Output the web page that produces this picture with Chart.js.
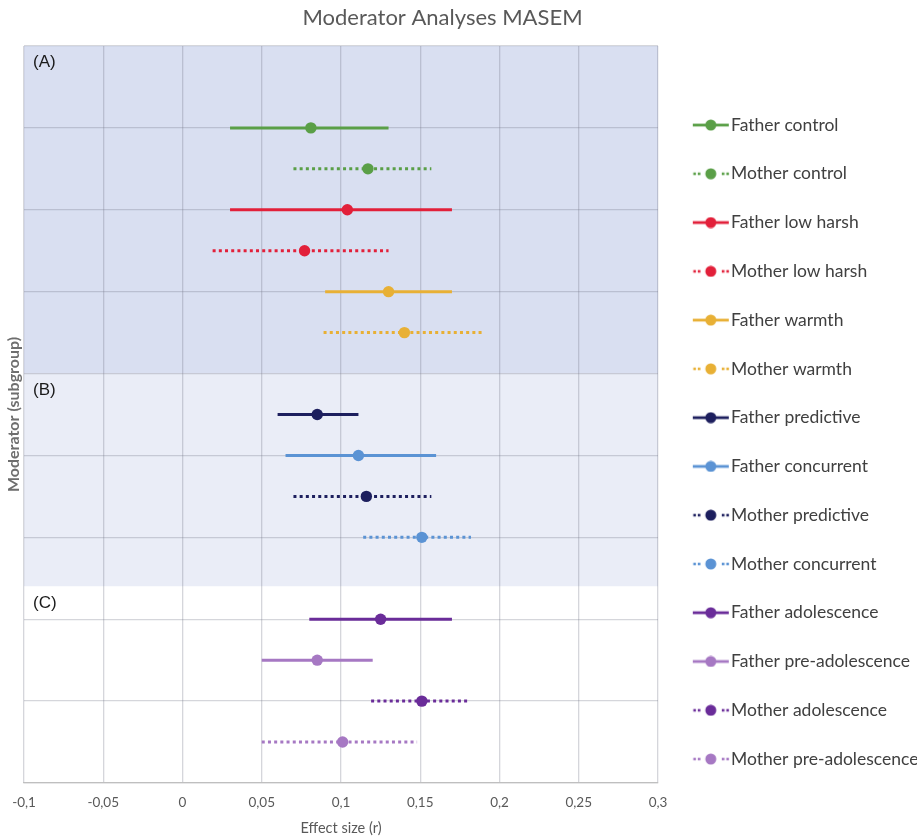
<!DOCTYPE html>
<html>
<head>
<meta charset="utf-8">
<script src="https://cdn.jsdelivr.net/npm/chart.js@4/dist/chart.umd.min.js"></script>
<style>
html,body{margin:0;padding:0;background:#fff;}
#wrap{width:917px;height:837px;}
</style>
</head>
<body>
<div id="wrap"><canvas id="c" width="917" height="837"></canvas></div>
<script>
// ---- data ----
const groups = ['Father control','Mother control','Father low harsh','Mother low harsh','Father warmth','Mother warmth',
  'Father predictive','Father concurrent','Mother predictive','Mother concurrent',
  'Father adolescence','Father pre-adolescence','Mother adolescence','Mother pre-adolescence'];
const rowPos    = [2,3,4,5,6,7, 9,10,11,12, 14,15,16,17];
const estimates = [0.081,0.117,0.104,0.077,0.130,0.140, 0.085,0.111,0.116,0.151, 0.125,0.085,0.151,0.101];
const lower     = [0.030,0.070,0.030,0.019,0.090,0.089, 0.060,0.065,0.070,0.114, 0.080,0.050,0.119,0.050];
const upper     = [0.130,0.157,0.170,0.130,0.170,0.190, 0.111,0.160,0.157,0.182, 0.170,0.120,0.181,0.148];
const xTickLabels = ['-0,1','-0,05','0','0,05','0,1','0,15','0,2','0,25','0,3'];
const bandLabels = ['(A)','(B)','(C)'];
const bandStart  = [0, 8, 13.2];
const bandEnd    = [8, 13.2, 18];

// ---- styles ----
const lineColors = ['#5a9f47','#5a9f47','#e2203a','#e2203a','#e8b035','#e8b035',
  '#1d1f5e','#5b93d4','#1d1f5e','#5b93d4','#6a2c99','#a678c3','#6a2c99','#a678c3'];
const isDotted = groups.map(g => g.startsWith('Mother'));
const bandColors = ['#d9dff1','#eaedf7','#ffffff'];
const LEGEND_BOX_WIDTH = 259;
const TITLE_RIGHT_INSET = 32;

function legendImage(color, dotted){
  const cv = document.createElement('canvas');
  cv.width = 48; cv.height = 12;
  const g = cv.getContext('2d');
  g.fillStyle = color;
  if (dotted){
    [11.5,16,40,44.5].forEach(x => g.fillRect(x, 4.7, 2.6, 2.6));
  } else {
    g.fillRect(11, 4.6, 36, 2.8);
  }
  g.beginPath(); g.arc(29, 6, 5.5, 0, Math.PI*2); g.fill();
  return cv;
}
const legendImgs = groups.map((g,i) => legendImage(lineColors[i], isDotted[i]));

const datasets = groups.map((g,i) => ({
  label: g,
  data: [{x: lower[i], y: rowPos[i]}, {x: estimates[i], y: rowPos[i]}, {x: upper[i], y: rowPos[i]}],
  borderColor: lineColors[i],
  backgroundColor: lineColors[i],
  borderWidth: 3,
  borderDash: isDotted[i] ? [3,3.2] : [],
  borderCapStyle: 'butt',
  pointRadius: [0,5.7,0],
  pointHoverRadius: [0,5.7,0],
  pointBorderWidth: 0,
  pointBackgroundColor: lineColors[i],
  showLine: true,
  fill: false,
  tension: 0
}));

const bandPlugin = {
  id: 'bands',
  beforeLayout(chart){
    const lg = chart.legend;
    if (lg && !lg._widthPatched){
      const fit = lg.fit;
      lg.fit = function(){ fit.call(this); this.width = Math.max(this.width, LEGEND_BOX_WIDTH); };
      lg._widthPatched = true;
    }
  },
  afterLayout(chart){
    if (chart.titleBlock) chart.titleBlock.right -= TITLE_RIGHT_INSET;
  },
  beforeDraw(chart){
    const {ctx, chartArea: a, scales: {y}} = chart;
    ctx.save();
    bandStart.forEach((s,i) => {
      const y0 = y.getPixelForValue(s), y1 = y.getPixelForValue(bandEnd[i]);
      ctx.fillStyle = bandColors[i];
      ctx.fillRect(a.left, Math.min(y0,y1), a.right - a.left, Math.abs(y1-y0));
    });
    ctx.restore();
  },
  afterDatasetsDraw(chart){
    const {ctx, chartArea: a, scales: {y}} = chart;
    ctx.save();
    ctx.fillStyle = '#1a1a1a';
    ctx.font = '17px "Liberation Sans", Arial, sans-serif';
    ctx.textBaseline = 'middle';
    ctx.textAlign = 'left';
    bandStart.forEach((s,i) => {
      ctx.fillText(bandLabels[i], a.left + 9, y.getPixelForValue(s) + 16.5);
    });
    ctx.restore();
  }
};

Chart.defaults.font.family = 'Lato, "Open Sans", sans-serif';
new Chart(document.getElementById('c'), {
  type: 'scatter',
  data: { datasets },
  plugins: [bandPlugin],
  options: {
    responsive: false,
    animation: false,
    layout: { padding: { left: 0, right: 0, top: 0, bottom: 0 } },
    plugins: {
      title: {
        display: true, text: 'Moderator Analyses MASEM',
        color: '#595959', font: { size: 22, weight: 'normal' },
        padding: { top: 5, bottom: 14.6 }
      },
      legend: {
        display: true, position: 'right', align: 'start',
        title: { display: true, text: '', font: { size: 10 }, padding: { top: 0, bottom: 73 } },
        labels: {
          usePointStyle: true, pointStyleWidth: 33,
          color: '#404040', font: { size: 17.5 }, padding: 31.27,
          generateLabels(chart){
            const items = Chart.defaults.plugins.legend.labels.generateLabels(chart);
            items.forEach((it, i) => { it.pointStyle = legendImgs[i]; });
            return items;
          }
        }
      },
      tooltip: { enabled: false }
    },
    scales: {
      x: {
        type: 'linear', min: -0.1, max: 0.3,
        ticks: { stepSize: 0.05, color: '#595959', font: { size: 13.5 }, padding: 12,
          callback: (v, i) => xTickLabels[i] },
        grid: { color: 'rgba(115,118,135,0.3)', drawTicks: false, lineWidth: 1.3 },
        border: { display: true, color: '#bfbfbf', width: 1.3 },
        title: { display: true, text: 'Effect size (r)', color: '#595959', font: { size: 14.5, lineHeight: 1 },
          padding: { top: -2.45, bottom: 1.75 } }
      },
      y: {
        type: 'linear', min: 0, max: 18, reverse: true,
        ticks: { display: false, stepSize: 2 },
        grid: { color: 'rgba(115,118,135,0.3)', drawTicks: false, lineWidth: 1.3 },
        border: { display: false },
        title: { display: true, text: 'Moderator (subgroup)', color: '#6e6e6e', font: { size: 16, weight: 'bold' },
          padding: { top: 4.4, bottom: 0.4 } }
      }
    }
  }
});
</script>
</body>
</html>
